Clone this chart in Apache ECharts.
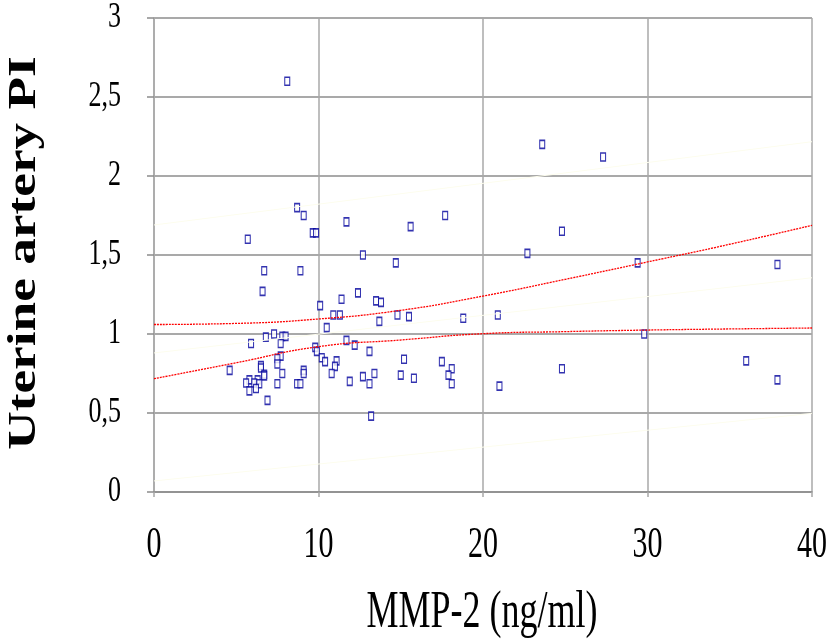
<!DOCTYPE html>
<html lang="en">
<head>
    <meta charset="UTF-8">
    <title>Uterine artery PI vs MMP-2</title>
    <script src="https://cdn.jsdelivr.net/npm/echarts@6/dist/echarts.min.js"></script>
    <style>
        html, body {margin: 0; padding: 0; background: #fff;}
        #main {width: 826px; height: 644px;}
    </style>
</head>
<body>
<div id="main"></div>
<script>
    // points
    let mmp2 = [8.1, 8.7, 9.1, 9.65, 9.85, 5.7, 11.7, 12.7, 15.6, 17.7, 14.7, 6.7, 8.9, 6.6, 12.4, 11.4, 13.5, 13.8,
        10.1, 10.9, 11.3, 14.8, 15.5, 18.8, 13.7, 10.5, 7.3, 6.8, 7.8, 8.0, 5.9, 7.7, 11.7, 12.2, 9.8, 9.9, 13.1,
        7.7, 7.5, 10.2, 15.2, 10.4, 11.1, 7.5, 17.5, 11.0, 6.5, 6.5, 18.1, 4.6, 9.1, 9.1, 7.8, 10.8, 13.4, 6.7, 6.7,
        15.0, 17.9, 12.7, 15.8, 11.9, 5.8, 6.3, 5.6, 6.1, 6.4, 7.5, 8.7, 8.9, 13.1, 18.1, 6.2, 5.8, 6.9, 13.2,
        22.7, 29.4, 37.9, 20.9, 29.8, 36.0, 37.9, 24.8, 21.0, 23.6, 27.3, 24.8];
    let pi = [2.60, 1.80, 1.75, 1.64, 1.64, 1.60, 1.71, 1.50, 1.68, 1.75, 1.45, 1.40, 1.40, 1.27, 1.26, 1.22, 1.21, 1.20,
        1.18, 1.12, 1.12, 1.12, 1.11, 1.10, 1.08, 1.04, 1.00, 0.98, 0.985, 0.985, 0.94, 0.94, 0.96, 0.93, 0.915, 0.89, 0.89,
        0.86, 0.845, 0.85, 0.84, 0.825, 0.83, 0.81, 0.825, 0.795, 0.80, 0.785, 0.78, 0.77, 0.77, 0.75, 0.75, 0.75, 0.75, 0.745, 0.735,
        0.74, 0.74, 0.73, 0.72, 0.70, 0.71, 0.71, 0.69, 0.69, 0.685, 0.685, 0.685, 0.685, 0.685, 0.685, 0.655, 0.64, 0.58, 0.48,
        1.51, 1.45, 1.44, 1.12, 1.00, 0.83, 0.71, 0.78, 0.67, 2.20, 2.12, 1.65];

    // red dotted bands
    let bandX = [0, 5, 10, 15, 20, 25, 30, 35, 40];
    let upperBand = [1.06, 1.067, 1.095, 1.15, 1.24, 1.346, 1.456, 1.568, 1.688];
    let lowerBand = [0.717, 0.818, 0.92, 0.962, 1.002, 1.015, 1.025, 1.032, 1.038];

    // very faint yellow lines (fit and outer limits)
    let faintX = [0, 40];
    let fitLine = [0.88, 1.356];
    let faintUpper = [1.69, 2.217];
    let faintLower = [0.07, 0.498];

    let xTicks = [0, 10, 20, 30, 40];
    let yTicks = [0, 0.5, 1, 1.5, 2, 2.5, 3];

    let zip = (xs, ys) => xs.map((x, i) => [x, ys[i]]);

    let myChart = echarts.init(document.getElementById('main'));
    let faintStyle = {color: '#fdfdee', width: 1};
    let option = {
        animation: false,
        grid: {left: 154, right: 14, top: 18, bottom: 152},
        xAxis: {
            type: 'value', min: 0, max: 40, interval: 10,
            axisLine: {show: true, lineStyle: {color: '#8c8c8c', width: 1.5}},
            axisTick: {show: true, length: 5, lineStyle: {color: '#a8a8a8', width: 1.5}},
            axisLabel: {show: false},
            splitLine: {show: true, lineStyle: {color: '#a8a8a8', width: 1.5}}
        },
        yAxis: {
            type: 'value', min: 0, max: 3, interval: 0.5,
            axisLine: {show: true, lineStyle: {color: '#a8a8a8', width: 1.5}},
            axisTick: {show: true, length: 7, lineStyle: {color: '#8c8c8c', width: 1.5}},
            axisLabel: {show: false},
            splitLine: {show: true, lineStyle: {color: '#8c8c8c', width: 1.5}}
        },
        series: [
            {type: 'line', data: zip(faintX, faintUpper), symbol: 'none', lineStyle: faintStyle, silent: true},
            {type: 'line', data: zip(faintX, fitLine), symbol: 'none', lineStyle: faintStyle, silent: true},
            {type: 'line', data: zip(faintX, faintLower), symbol: 'none', lineStyle: faintStyle, silent: true},
            {
                type: 'line', data: zip(bandX, upperBand), symbol: 'none', smooth: true,
                lineStyle: {color: '#ff0000', width: 1.3, type: [2, 1]}
            },
            {
                type: 'line', data: zip(bandX, lowerBand), symbol: 'none', smooth: true,
                lineStyle: {color: '#ff0000', width: 1.3, type: [2, 1]}
            },
            {
                type: 'scatter', data: zip(mmp2, pi), symbol: 'rect', symbolSize: [5, 8],
                itemStyle: {color: '#ffffff', borderColor: '#00009c', borderWidth: 1.3}
            }
        ]
    };
    myChart.setOption(option);

    // tick labels and titles as stretched serif text
    let graphic = [];
    xTicks.forEach(v => {
        let p = myChart.convertToPixel({gridIndex: 0}, [v, 0]);
        graphic.push({
            type: 'text', x: p[0], y: p[1] + 53, scaleY: 1.5,
            style: {text: String(v), font: '30px "Liberation Serif"', fill: '#000', align: 'center', verticalAlign: 'middle'}
        });
    });
    yTicks.forEach(v => {
        let p = myChart.convertToPixel({gridIndex: 0}, [0, v]);
        graphic.push({
            type: 'text', x: 121, y: p[1] - 1, scaleY: 1.4,
            style: {text: String(v).replace('.', ','), font: '26px "Liberation Serif"', fill: '#000', align: 'right', verticalAlign: 'middle'}
        });
    });
    graphic.push({
        type: 'text', x: 482, y: 613, scaleY: 1.48,
        style: {text: 'MMP-2 (ng/ml)', font: '36px "Liberation Serif"', fill: '#000', align: 'center', verticalAlign: 'middle'}
    });
    graphic.push({
        type: 'text', x: 24, y: 253, rotation: Math.PI / 2, scaleX: 1.3,
        style: {text: 'Uterine artery PI', font: 'bold 41px "Liberation Serif"', fill: '#000', align: 'center', verticalAlign: 'middle'}
    });
    myChart.setOption({graphic: graphic});
</script>
</body>
</html>
